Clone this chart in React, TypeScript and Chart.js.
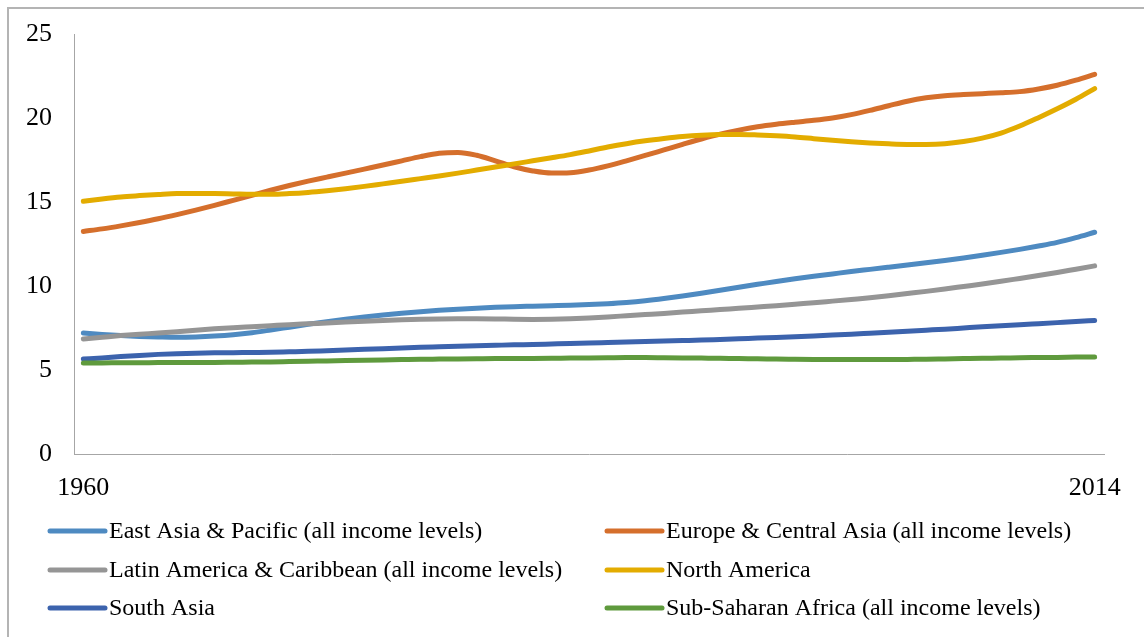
import React, { useEffect, useRef } from "react";
import { Chart, registerables } from "chart.js";

Chart.register(...registerables);

const years: string[] = [];
for (let y = 1960; y <= 2014; y++) years.push(String(y));

const eastAsia = [7.2, 7.12, 7.05, 7.0, 6.97, 6.95, 6.97, 7.02, 7.1, 7.22, 7.38, 7.55, 7.72, 7.88, 8.02, 8.15, 8.27, 8.38, 8.47, 8.55, 8.62, 8.68, 8.73, 8.77, 8.8, 8.83, 8.86, 8.9, 8.95, 9.02, 9.12, 9.25, 9.4, 9.57, 9.75, 9.93, 10.1, 10.27, 10.43, 10.58, 10.72, 10.86, 10.99, 11.12, 11.25, 11.38, 11.52, 11.67, 11.83, 12.0, 12.18, 12.38, 12.6, 12.88, 13.2];
const europe = [13.25, 13.4, 13.58, 13.78, 14.0, 14.25, 14.52, 14.8, 15.1, 15.4, 15.7, 15.98, 16.24, 16.48, 16.72, 16.96, 17.2, 17.45, 17.7, 17.9, 17.95, 17.78, 17.45, 17.1, 16.85, 16.72, 16.74, 16.9, 17.15, 17.45, 17.77, 18.1, 18.43, 18.75, 19.04, 19.28, 19.48, 19.63, 19.75, 19.86, 20.0, 20.2, 20.45, 20.73, 21.0, 21.2, 21.33, 21.4, 21.45, 21.5, 21.57, 21.73, 21.95, 22.25, 22.6];
const latinAmerica = [6.85, 6.95, 7.05, 7.13, 7.2, 7.28, 7.37, 7.45, 7.52, 7.58, 7.64, 7.7, 7.75, 7.8, 7.85, 7.9, 7.95, 7.99, 8.02, 8.04, 8.05, 8.05, 8.04, 8.02, 8.01, 8.02, 8.05, 8.1, 8.16, 8.23, 8.3, 8.37, 8.45, 8.52, 8.6, 8.67, 8.75, 8.83, 8.92, 9.0, 9.1, 9.2, 9.3, 9.42, 9.55, 9.68, 9.82, 9.97, 10.12, 10.28, 10.45, 10.62, 10.8, 11.0, 11.2];
const northAmerica = [15.04, 15.18, 15.3, 15.38, 15.45, 15.5, 15.5, 15.5, 15.48, 15.46, 15.46, 15.5, 15.57, 15.67, 15.79, 15.93, 16.08, 16.23, 16.39, 16.55, 16.72, 16.9, 17.08, 17.27, 17.45, 17.63, 17.82, 18.04, 18.27, 18.47, 18.64, 18.78, 18.9, 18.98, 19.02, 19.02, 18.99, 18.94, 18.87, 18.77, 18.67, 18.58, 18.51, 18.46, 18.43, 18.43, 18.47, 18.6, 18.8, 19.1, 19.52, 20.02, 20.55, 21.12, 21.75];
const southAsia = [5.65, 5.72, 5.8, 5.87, 5.93, 5.97, 6.0, 6.02, 6.03, 6.04, 6.05, 6.08, 6.11, 6.15, 6.19, 6.23, 6.27, 6.31, 6.35, 6.38, 6.41, 6.44, 6.47, 6.5, 6.52, 6.55, 6.58, 6.6, 6.63, 6.66, 6.69, 6.72, 6.75, 6.78, 6.82, 6.86, 6.9, 6.94, 6.98, 7.03, 7.08, 7.13, 7.19, 7.25, 7.31, 7.37, 7.43, 7.5, 7.57, 7.63, 7.7, 7.76, 7.82, 7.88, 7.95];
const subSaharan = [5.42, 5.42, 5.43, 5.43, 5.44, 5.44, 5.45, 5.45, 5.46, 5.47, 5.48, 5.5, 5.52, 5.54, 5.56, 5.58, 5.6, 5.62, 5.64, 5.65, 5.66, 5.67, 5.68, 5.68, 5.69, 5.7, 5.71, 5.72, 5.73, 5.74, 5.74, 5.73, 5.72, 5.71, 5.7, 5.68, 5.67, 5.65, 5.64, 5.63, 5.62, 5.62, 5.62, 5.62, 5.63, 5.64, 5.66, 5.68, 5.7, 5.71, 5.73, 5.74, 5.75, 5.77, 5.78];

const seriesNames = [
  "East Asia & Pacific (all income levels)",
  "Europe & Central Asia (all income levels)",
  "Latin America & Caribbean (all income levels)",
  "North America",
  "South Asia",
  "Sub-Saharan Africa (all income levels)",
];
const seriesValues = [eastAsia, europe, latinAmerica, northAmerica, southAsia, subSaharan];
const seriesColors = ["#4e8ac1", "#d56f2c", "#959595", "#e3ac00", "#3c63ad", "#5f9a3d"];

const yTicks = [0, 5, 10, 15, 20, 25];

const FONT = "'Liberation Serif', 'Times New Roman', serif";

const framePlugin = {
  id: "frameAndLegend",
  afterDraw(chart: any) {
    const ctx = chart.ctx;
    ctx.save();
    // outer frame (top and left edges visible)
    ctx.strokeStyle = "#b4b4b4";
    ctx.lineWidth = 2;
    ctx.beginPath();
    ctx.moveTo(1, chart.height);
    ctx.lineTo(1, 1);
    ctx.lineTo(chart.width, 1);
    ctx.stroke();

    // two-column legend
    const cols = [43, 600];
    const rows = [524, 563, 601];
    const lineLen = 55;
    ctx.font = `24px ${FONT}`;
    ctx.textBaseline = "middle";
    ctx.textAlign = "left";
    chart.data.datasets.forEach((ds: any, i: number) => {
      const cx = cols[i % 2];
      const cy = rows[Math.floor(i / 2)];
      ctx.strokeStyle = ds.borderColor;
      ctx.lineWidth = 5;
      ctx.lineCap = "round";
      ctx.beginPath();
      ctx.moveTo(cx, cy);
      ctx.lineTo(cx + lineLen, cy);
      ctx.stroke();
      ctx.fillStyle = "#000000";
      ctx.fillText(ds.label, cx + lineLen + 4, cy + 1);
    });
    ctx.restore();
  },
};

export default function App() {
  const ref = useRef<HTMLCanvasElement | null>(null);
  useEffect(() => {
    if (!ref.current) return;
    const chart = new Chart(ref.current, {
      type: "line",
      data: {
        labels: years,
        datasets: seriesNames.map((name, i) => ({
          label: name,
          data: seriesValues[i],
          borderColor: seriesColors[i],
          backgroundColor: seriesColors[i],
          borderWidth: 5,
          borderCapStyle: "round" as const,
          borderJoinStyle: "round" as const,
          pointRadius: 0,
          pointHoverRadius: 0,
          cubicInterpolationMode: "monotone" as const,
          fill: false,
          order: seriesNames.length - i,
        })),
      },
      options: {
        responsive: false,
        animation: false,
        devicePixelRatio: 1,
        layout: { padding: { left: 0, right: 40, top: 27, bottom: 123 } },
        plugins: {
          legend: { display: false },
          tooltip: { enabled: false },
          title: { display: false },
        },
        scales: {
          x: {
            type: "category",
            offset: true,
            grid: { display: false, drawTicks: false },
            border: { display: true, color: "#a6a6a6", width: 1 },
            ticks: {
              autoSkip: false,
              maxRotation: 0,
              padding: 19,
              color: "#000000",
              font: { family: FONT, size: 26 },
              callback: (_v: any, idx: number) =>
                idx === 0 || idx === years.length - 1 ? years[idx] : "",
            },
            afterFit: (scale: any) => {
              scale.height = 60;
              scale.paddingLeft = 0;
              scale.paddingRight = 0;
            },
          },
          y: {
            min: yTicks[0],
            max: yTicks[yTicks.length - 1],
            grid: { display: false, drawTicks: false },
            border: { display: true, color: "#a6a6a6", width: 1 },
            ticks: {
              stepSize: 5,
              padding: 22,
              color: "#000000",
              font: { family: FONT, size: 26 },
            },
            afterFit: (scale: any) => {
              scale.width = 67;
              scale.paddingTop = 0;
              scale.paddingBottom = 0;
            },
          },
        },
      },
      plugins: [framePlugin],
    });
    return () => chart.destroy();
  }, []);

  return (
    <canvas
      ref={ref}
      width={1137}
      height={630}
      style={{ position: "absolute", left: 7, top: 7, width: 1137, height: 630, display: "block" }}
    />
  );
}
